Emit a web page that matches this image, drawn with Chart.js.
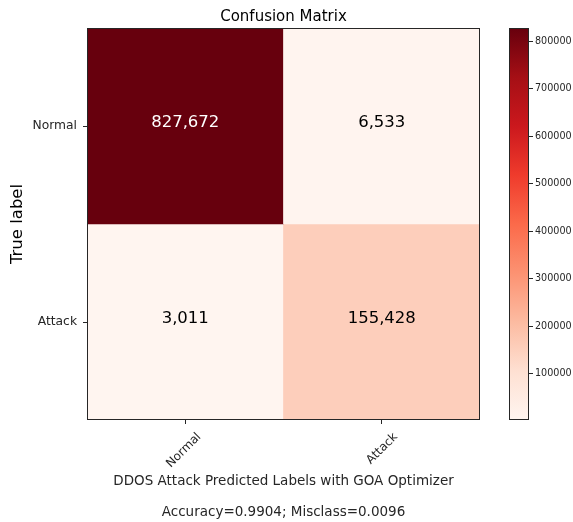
<!DOCTYPE html>
<html>
<head>
<meta charset="utf-8">
<title>Confusion Matrix</title>
<script src="https://cdn.jsdelivr.net/npm/chart.js@4/dist/chart.umd.min.js"></script>
<style>
  html, body { margin: 0; padding: 0; background: #ffffff; }
  #wrap { position: relative; width: 573px; height: 522px; }
  #wrap canvas { position: absolute; left: 0; top: 0; }
</style>
</head>
<body>
<div id="wrap">
  <canvas id="matrix" width="573" height="522"></canvas>
  <canvas id="cbar" width="573" height="522"></canvas>
</div>
<script>
// Class names shared by rows (true label) and columns (predicted label)
const trueLabels = ['Normal', 'Attack'];
const predLabels = ['Normal', 'Attack'];

// Counts per true class, one entry per predicted class
const normalRow = [827672, 6533];
const attackRow = [3011, 155428];
const countRows = [normalRow, attackRow];

// Colorbar tick values
const cbarTicks = [100000, 200000, 300000, 400000, 500000, 600000, 700000, 800000];

// Summary shown under the predicted-label axis
const xTitleLines = ['DDOS Attack Predicted Labels with GOA Optimizer', '', 'Accuracy=0.9904; Misclass=0.0096'];

const FONT = 'DejaVu Sans';
const allCounts = countRows.flat();
const vmin = Math.min(...allCounts);
const vmax = Math.max(...allCounts);

// "Reds" sequential colormap (9 evenly spaced anchors)
const REDS = ['#fff5f0', '#fee0d2', '#fcbba1', '#fc9272', '#fb6a4a', '#ef3b2c', '#cb181d', '#a50f15', '#67000d'];
function hexToRgb(h) {
  const n = parseInt(h.slice(1), 16);
  return [(n >> 16) & 255, (n >> 8) & 255, n & 255];
}
const REDS_RGB = REDS.map(hexToRgb);
function redsColor(v) {
  let t = (v - vmin) / (vmax - vmin);
  t = Math.max(0, Math.min(1, t));
  const pos = t * (REDS_RGB.length - 1);
  const i = Math.min(Math.floor(pos), REDS_RGB.length - 2);
  const f = pos - i;
  const a = REDS_RGB[i], b = REDS_RGB[i + 1];
  const c = a.map((x, k) => Math.round(x + (b[k] - x) * f));
  return `rgb(${c[0]},${c[1]},${c[2]})`;
}

// One floating-bar dataset per true-label row; each bar fills one cell
const datasets = trueLabels.map((rowName, i) => ({
  label: rowName,
  data: predLabels.map((colName, j) => ({ x: colName, y: [i, i + 1], v: countRows[i][j] })),
  backgroundColor: ctx => redsColor(ctx.raw.v),
  borderWidth: 0,
  barPercentage: 1,
  categoryPercentage: 1,
  grouped: false
}));

// Frame around the plotting area (all four spines)
const frame = {
  id: 'frame',
  afterDatasetsDraw(chart) {
    const { ctx, chartArea: a } = chart;
    ctx.save();
    ctx.strokeStyle = '#262626';
    ctx.lineWidth = 1;
    ctx.strokeRect(Math.round(a.left) + 0.5, Math.round(a.top) + 0.5,
      Math.round(a.right - a.left) - 1, Math.round(a.bottom - a.top) - 1);
    ctx.restore();
  }
};

// Count written in each cell, white on dark cells
const cellText = {
  id: 'cellText',
  afterDatasetsDraw(chart) {
    const { ctx } = chart;
    const thresh = vmax / 1.5;
    ctx.save();
    ctx.font = `16.5px "${FONT}"`;
    ctx.textAlign = 'center';
    ctx.textBaseline = 'alphabetic';
    chart.data.datasets.forEach((ds, di) => {
      chart.getDatasetMeta(di).data.forEach((el, k) => {
        const v = ds.data[k].v;
        ctx.fillStyle = v > thresh ? '#ffffff' : '#000000';
        ctx.fillText(v.toLocaleString('en-US'), el.x, (el.y + el.base) / 2 + 1);
      });
    });
    ctx.restore();
  }
};

new Chart(document.getElementById('matrix'), {
  type: 'bar',
  data: { labels: predLabels, datasets },
  options: {
    responsive: false,
    animation: false,
    events: [],
    layout: { padding: { left: 0, right: 93, top: 0, bottom: 0 } },
    plugins: {
      legend: { display: false },
      tooltip: { enabled: false }
    },
    scales: {
      // Top axis carries only the chart title, centred over the matrix
      top: {
        type: 'category',
        position: 'top',
        offset: true,
        grid: { display: false },
        border: { display: false },
        ticks: { display: false },
        title: {
          display: true,
          text: 'Confusion Matrix',
          color: '#000000',
          font: { family: FONT, size: 15, lineHeight: 1.2 },
          padding: { top: 8, bottom: 0 }
        },
        afterFit(scale) { scale.height = 28; }
      },
      x: {
        type: 'category',
        offset: true,
        grid: { drawOnChartArea: false, offset: false, tickLength: 4, color: '#262626', lineWidth: 1 },
        border: { display: false },
        ticks: {
          color: '#262626',
          font: { family: FONT, size: 12 },
          minRotation: 45,
          maxRotation: 45,
          padding: 6,
          labelOffset: 14
        },
        title: {
          display: true,
          text: xTitleLines,
          color: '#262626',
          font: { family: FONT, size: 13.5, lineHeight: 1.15 },
          padding: { top: 0, bottom: 2 }
        },
        afterFit(scale) { scale.height = 102; }
      },
      y: {
        type: 'linear',
        min: 0,
        max: trueLabels.length,
        reverse: true,
        grid: { drawOnChartArea: false, tickLength: 4, color: '#262626', lineWidth: 1 },
        border: { display: false },
        afterBuildTicks(scale) { scale.ticks = trueLabels.map((_, i) => ({ value: i + 0.5 })); },
        ticks: {
          color: '#262626',
          font: { family: FONT, size: 12.3 },
          padding: 6,
          callback: (value) => trueLabels[Math.floor(value)]
        },
        title: {
          display: true,
          text: 'True label',
          color: '#000000',
          font: { family: FONT, size: 16.5, lineHeight: 1.2 },
          padding: { top: 8, bottom: 0 }
        },
        afterFit(scale) { scale.width = 87; }
      }
    }
  },
  plugins: [frame, cellText]
});

// Colorbar: one floating bar spanning the data range, filled with the colormap
new Chart(document.getElementById('cbar'), {
  type: 'bar',
  data: {
    labels: [''],
    datasets: [{
      data: [[vmin, vmax]],
      backgroundColor(ctx) {
        const chart = ctx.chart;
        if (!chart.chartArea) return REDS[0];
        const y = chart.scales.y;
        const g = chart.ctx.createLinearGradient(0, y.getPixelForValue(vmin), 0, y.getPixelForValue(vmax));
        REDS.forEach((c, i) => g.addColorStop(i / (REDS.length - 1), c));
        return g;
      },
      borderWidth: 0,
      barPercentage: 1,
      categoryPercentage: 1
    }]
  },
  options: {
    responsive: false,
    animation: false,
    events: [],
    layout: { padding: { left: 509, right: 0, top: 28, bottom: 0 } },
    plugins: { legend: { display: false }, tooltip: { enabled: false } },
    scales: {
      x: { display: false, afterFit(scale) { scale.height = 102; } },
      y: {
        position: 'right',
        min: vmin,
        max: vmax,
        grid: { drawOnChartArea: false, tickLength: 4, color: '#262626', lineWidth: 1 },
        border: { display: false },
        afterBuildTicks(scale) { scale.ticks = cbarTicks.map(v => ({ value: v })); },
        ticks: {
          color: '#262626',
          font: { family: FONT, size: 9.6 },
          padding: 2,
          callback: v => String(v)
        },
        afterFit(scale) { scale.width = 44; }
      }
    }
  },
  plugins: [frame]
});
</script>
</body>
</html>
